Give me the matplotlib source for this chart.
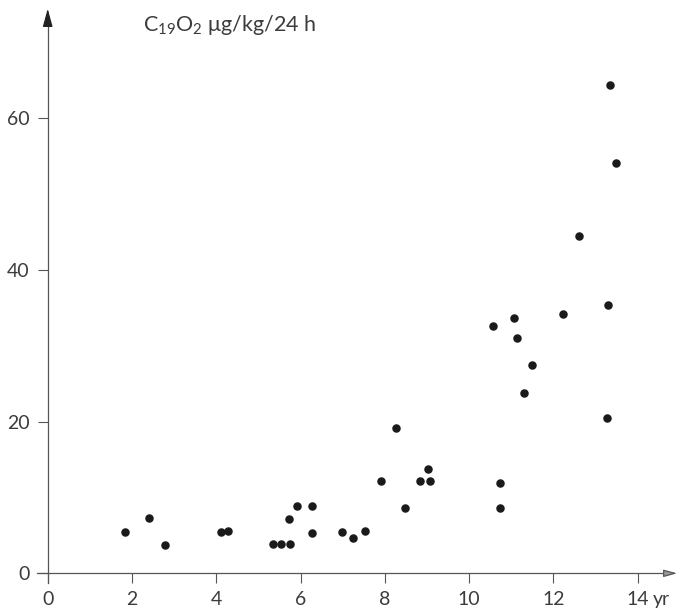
import matplotlib.pyplot as plt

plt.rcParams['font.family'] = ['Lato', 'DejaVu Sans']
plt.rcParams['mathtext.default'] = 'regular'

# age (years) and excretion values
age = [1.83, 2.40, 2.78, 4.10, 4.27, 5.35, 5.54, 5.75, 5.73, 5.92,
       6.27, 6.27, 6.98, 7.25, 7.54, 7.91, 8.27, 8.48, 8.84, 9.06,
       9.02, 10.56, 11.07, 11.14, 11.50, 11.30, 10.73, 10.74, 12.23, 12.60,
       13.33, 13.48, 13.30, 13.28]
excretion = [5.4, 7.3, 3.7, 5.5, 5.6, 3.9, 3.9, 3.9, 7.1, 8.9,
             8.9, 5.3, 5.5, 4.6, 5.6, 12.2, 19.1, 8.6, 12.2, 12.2,
             13.8, 32.6, 33.6, 31.0, 27.4, 23.8, 11.9, 8.6, 34.2, 44.5,
             64.4, 54.1, 35.4, 20.5]

xticks = [0, 2, 4, 6, 8, 10, 12, 14]
yticks = [0, 20, 40, 60]

txt = '#3c3c3c'
axc = '#555555'

fig = plt.figure(figsize=(6.82, 6.13), dpi=100)
ax = fig.add_axes([0, 0, 1, 1])
ax.set_xlim(-1.132, 15.05)
ax.set_ylim(-5.23, 75.58)

ax.scatter(age, excretion, s=26, color='#1a1a1a', zorder=3)

for s in ['top', 'right']:
    ax.spines[s].set_visible(False)
ax.spines['left'].set_position(('data', 0))
ax.spines['bottom'].set_position(('data', 0))
ax.spines['left'].set_bounds(-1.3, 73)
ax.spines['bottom'].set_bounds(-0.25, 14.7)
for s in ['left', 'bottom']:
    ax.spines[s].set_color(axc)
    ax.spines[s].set_linewidth(0.9)

# arrow heads
ax.annotate('', xy=(0, 74.8), xytext=(0, 72),
            arrowprops=dict(arrowstyle='-|>,head_length=1.1,head_width=0.3',
                            color='#222222', lw=0.9))
ax.annotate('', xy=(15.0, 0), xytext=(14.6, 0),
            arrowprops=dict(arrowstyle='-|>,head_length=0.8,head_width=0.22',
                            color=axc, lw=0.9, fc='#999999'))

ax.set_xticks(xticks)
ax.set_xticklabels([str(t) for t in xticks])
ax.set_yticks(yticks)
ax.set_yticklabels([str(t) for t in yticks])
ax.tick_params(axis='both', direction='out', length=7.5, width=0.8,
               color=axc, labelcolor=txt, labelsize=14, pad=5.5)

ax.annotate('yr', xy=(14, 0), xytext=(10.5, -13), textcoords='offset points',
            ha='left', va='top', fontsize=14, color=txt)

fig.text(0.21, 0.959, 'C$_{19}$O$_{2}$ μg/kg/24 h', fontsize=15.5,
         color=txt, ha='left', va='center')

fig.savefig('out.png', dpi=100, facecolor='white')
